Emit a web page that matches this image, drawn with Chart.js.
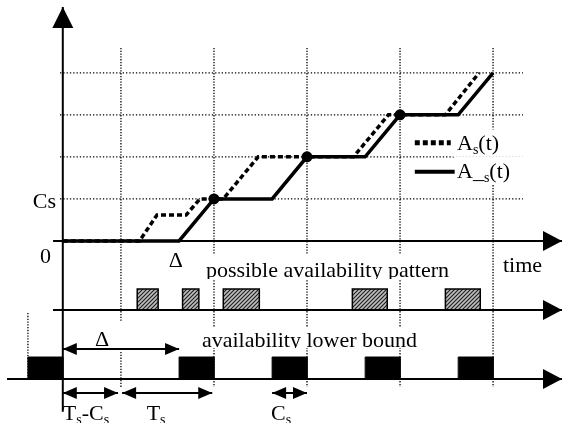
<!DOCTYPE html>
<html><head><meta charset="utf-8">
<script src="https://cdn.jsdelivr.net/npm/chart.js@4/dist/chart.umd.min.js"></script>
<style>html,body{margin:0;padding:0;background:#fff;}canvas{display:block;}</style>
</head><body>
<canvas id="c" width="564" height="423"></canvas>
<script>
// ---------- DATA (time in arbitrary units: Ts = 8, Cs = 3, Delta = 2(Ts-Cs) = 10) ----------
const gridLevels   = [3, 6, 9, 12];               // multiples of Cs on the service axis
const periodMarks  = [-3, 5, 13, 21, 29, 37];     // t = k*Ts - Cs
const solidT  = [0, 10, 13, 18, 21, 26, 29, 34, 37];          // A_s lower bound
const solidA  = [0, 0, 3, 3, 6, 6, 9, 9, 12];
const dottedT = [0, 6.6, 8.1, 10.6, 11.8, 13.8, 16.8, 25.0, 28.0, 32.9, 35.8]; // A_s(t)
const dottedA = [0, 0, 1.85, 1.85, 3, 3, 6, 6, 9, 9, 12];
const dotT = [13, 21, 29];
const dotA = [3, 6, 9];
const patternStart = [6.4, 10.3, 13.8, 24.9, 32.9];   // possible availability pattern
const patternEnd   = [8.2, 11.7, 16.9, 27.9, 35.9];
const boundStart   = [-3, 10, 18, 26, 34];            // availability lower bound
const boundEnd     = [0, 13, 21, 29, 37];
const deltaSpan    = [0, 10];
const spanTsCs     = [0, 4.75];
const spanTs       = [5.1, 12.85];
const spanCs       = [18, 21];

// ---------- LAYOUT (data-space placement of lanes / annotations) ----------
const L = {
  xMin: -5.4, xMax: 43.1, yMin: -13, yMax: 17.2,
  yAxisTop: 16.7, yAxisBottom: -12.2,
  axisStart: -0.84, axisEnd: 42.93, lowerStart: -4.8,
  patY: -4.93, patTop: -3.43, lbY: -9.86, lbTop: -8.29,
  gridLeft: -0.24, gridRight: 39.57, vTop: 13.78, vBottom: -10.43,
  deltaY: -7.71, spanY: -10.86
};
const FONT = '"Liberation Serif", "Times New Roman", serif';

// hatch pattern
const pc = document.createElement('canvas'); pc.width = 4; pc.height = 4;
const pctx = pc.getContext('2d');
pctx.fillStyle = '#bdbdbd'; pctx.fillRect(0, 0, 4, 4);
pctx.strokeStyle = '#1e1e1e'; pctx.lineWidth = 1.1;
pctx.beginPath();
pctx.moveTo(0, 4); pctx.lineTo(4, 0);
pctx.moveTo(-1, 1); pctx.lineTo(1, -1);
pctx.moveTo(3, 5); pctx.lineTo(5, 3);
pctx.stroke();
const hatch = pctx.createPattern(pc, 'repeat');

const ds = [];
function line(pts, opt) {
  ds.push(Object.assign({data: pts, showLine: true, pointRadius: 0, borderColor: '#000',
    backgroundColor: '#000', borderWidth: 1, fill: false, spanGaps: false, order: 5}, opt));
}
// grid
gridLevels.forEach(y => line([{x: L.gridLeft, y}, {x: L.gridRight, y}], {borderWidth: 1.3, borderDash: [1.3, 2], order: 10}));
periodMarks.forEach(t => {
  let pts;
  if (t < 0) pts = [{x: t, y: -5.15}, {x: t, y: L.lbY}];
  else if (t < deltaSpan[1]) pts = [{x: t, y: L.vTop}, {x: t, y: -5.79}, {x: t, y: null}, {x: t, y: -7.93}, {x: t, y: L.vBottom}];
  else pts = [{x: t, y: L.vTop}, {x: t, y: L.vBottom}];
  line(pts, {borderWidth: 1.3, borderDash: [1.3, 1.5], order: 10});
});
// boxes
patternStart.forEach((s, i) => {
  const e = patternEnd[i];
  line([{x: s, y: L.patY}, {x: s, y: L.patTop}, {x: e, y: L.patTop}, {x: e, y: L.patY}],
    {fill: {value: L.patY}, backgroundColor: hatch, borderWidth: 1.5, order: 6});
});
boundStart.forEach((s, i) => {
  const e = boundEnd[i];
  line([{x: s, y: L.lbY}, {x: s, y: L.lbTop}, {x: e, y: L.lbTop}, {x: e, y: L.lbY}],
    {fill: {value: L.lbY}, backgroundColor: '#000', borderWidth: 1, order: 6});
});
// axes
line([{x: 0, y: L.yAxisBottom}, {x: 0, y: L.yAxisTop}], {borderWidth: 2, order: 4, arrow: {end: true, len: 21, half: 10.5}});
line([{x: L.axisStart, y: 0}, {x: L.axisEnd, y: 0}], {borderWidth: 2, order: 4, arrow: {end: true, len: 19, half: 10}});
line([{x: L.axisStart, y: L.patY}, {x: L.axisEnd, y: L.patY}], {borderWidth: 2, order: 4, arrow: {end: true, len: 19, half: 10}});
line([{x: L.lowerStart, y: L.lbY}, {x: L.axisEnd, y: L.lbY}], {borderWidth: 2, order: 4, arrow: {end: true, len: 19, half: 10}});
// dimension arrows
const small = {start: true, end: true, len: 14, half: 6};
line([{x: deltaSpan[0], y: L.deltaY}, {x: deltaSpan[1], y: L.deltaY}], {borderWidth: 2, order: 4, arrow: small});
[spanTsCs, spanTs, spanCs].forEach(s =>
  line([{x: s[0], y: L.spanY}, {x: s[1], y: L.spanY}], {borderWidth: 2, order: 4, arrow: small}));
// curves
line(dottedT.map((t, i) => ({x: t, y: dottedA[i]})), {borderWidth: 3.5, borderDash: [5, 3], order: 2});
line(solidT.map((t, i) => ({x: t, y: solidA[i]})), {borderWidth: 3.5, order: 1});
ds.push({data: dotT.map((t, i) => ({x: t, y: dotA[i]})), showLine: false, pointRadius: 5.5,
  pointBackgroundColor: '#000', pointBorderWidth: 0, order: 0});
// legend samples
line([{x: 30.27, y: 7.0}, {x: 33.36, y: 7.0}], {borderWidth: 5, borderDash: [5, 3], order: 2});
line([{x: 30.27, y: 4.93}, {x: 33.7, y: 4.93}], {borderWidth: 4, order: 2});

// white-backed labels (they hide the dotted guides behind them)
const boxedLabels = [
  {parts: [{t: 'possible availability pattern'}], x: 22.76, y: -2.58, align: 'center', box: [12.05, -1.0, 33.47, -2.72]},
  {parts: [{t: 'availability lower bound'}], x: 21.21, y: -7.55, align: 'center', box: [11.8, -6.14, 30.7, -7.65]},
  {parts: [{t: 'A'}, {t: 's', sub: 1}, {t: '(t)'}], x: 33.9, y: 6.49, align: 'left', box: [33.55, 7.95, 39.8, 6.0]},
  {parts: [{t: 'A_'}, {t: 's', sub: 1}, {t: '(t)'}], x: 33.9, y: 4.49, align: 'left', box: [33.75, 6.0, 39.8, 4.0]}
];
const labels = [
  {parts: [{t: 'Cs'}], x: -0.58, y: 2.35, align: 'right'},
  {parts: [{t: '0'}], x: -1.49, y: -1.58, align: 'center'},
  {parts: [{t: 'Δ'}], x: 9.73, y: -1.86, align: 'center'},
  {parts: [{t: 'time'}], x: 37.85, y: -2.2, align: 'left'},
  {parts: [{t: 'Δ'}], x: 3.37, y: -7.5, align: 'center'},
  {parts: [{t: 'T'}, {t: 's', sub: 1}, {t: '-'}, {t: 'C'}, {t: 's', sub: 1}], x: 0.0, y: -12.77, align: 'left'},
  {parts: [{t: 'T'}, {t: 's', sub: 1}], x: 7.21, y: -12.77, align: 'left'},
  {parts: [{t: 'C'}, {t: 's', sub: 1}], x: 17.9, y: -12.77, align: 'left'}
];

function drawParts(ctx, lab, X, Y) {
  const fMain = '22px ' + FONT, fSub = '14px ' + FONT;
  let w = 0;
  lab.parts.forEach(p => { ctx.font = p.sub ? fSub : fMain; w += ctx.measureText(p.t).width; });
  let x = X(lab.x);
  if (lab.align === 'center') x -= w / 2; else if (lab.align === 'right') x -= w;
  const y = Y(lab.y);
  ctx.textAlign = 'left'; ctx.textBaseline = 'alphabetic'; ctx.fillStyle = '#000';
  lab.parts.forEach(p => {
    ctx.font = p.sub ? fSub : fMain;
    ctx.fillText(p.t, x, y + (p.sub ? 4 : 0));
    x += ctx.measureText(p.t).width;
  });
}

const overlay = {
  id: 'overlay',
  afterDatasetsDraw(chart) {
    const ctx = chart.ctx, sx = chart.scales.x, sy = chart.scales.y;
    const X = v => sx.getPixelForValue(v), Y = v => sy.getPixelForValue(v);
    chart.data.datasets.forEach((d, i) => {
      if (!d.arrow) return;
      const pts = chart.getDatasetMeta(i).data;
      const a = pts[0], b = pts[pts.length - 1];
      const head = (tip, from) => {
        const ang = Math.atan2(tip.y - from.y, tip.x - from.x);
        ctx.save(); ctx.translate(tip.x, tip.y); ctx.rotate(ang);
        ctx.beginPath(); ctx.moveTo(0, 0); ctx.lineTo(-d.arrow.len, -d.arrow.half);
        ctx.lineTo(-d.arrow.len, d.arrow.half); ctx.closePath();
        ctx.fillStyle = '#000'; ctx.fill(); ctx.restore();
      };
      if (d.arrow.end) head(b, a);
      if (d.arrow.start) head(a, b);
    });
    boxedLabels.forEach(l => {
      const [x0, y0, x1, y1] = l.box;
      ctx.save();
      ctx.beginPath(); ctx.rect(X(x0), Y(y0), X(x1) - X(x0), Y(y1) - Y(y0));
      ctx.fillStyle = '#fff'; ctx.fill(); ctx.clip();
      drawParts(ctx, l, X, Y);
      ctx.restore();
    });
    labels.forEach(l => { ctx.save(); drawParts(ctx, l, X, Y); ctx.restore(); });
  }
};

new Chart(document.getElementById('c'), {
  type: 'scatter',
  data: {datasets: ds},
  options: {
    responsive: false, animation: false, events: [],
    layout: {padding: 0, autoPadding: false},
    plugins: {legend: {display: false}, tooltip: {enabled: false}},
    scales: {
      x: {type: 'linear', min: L.xMin, max: L.xMax, display: false},
      y: {type: 'linear', min: L.yMin, max: L.yMax, display: false}
    },
    elements: {line: {tension: 0}}
  },
  plugins: [overlay]
});
</script>
</body></html>
